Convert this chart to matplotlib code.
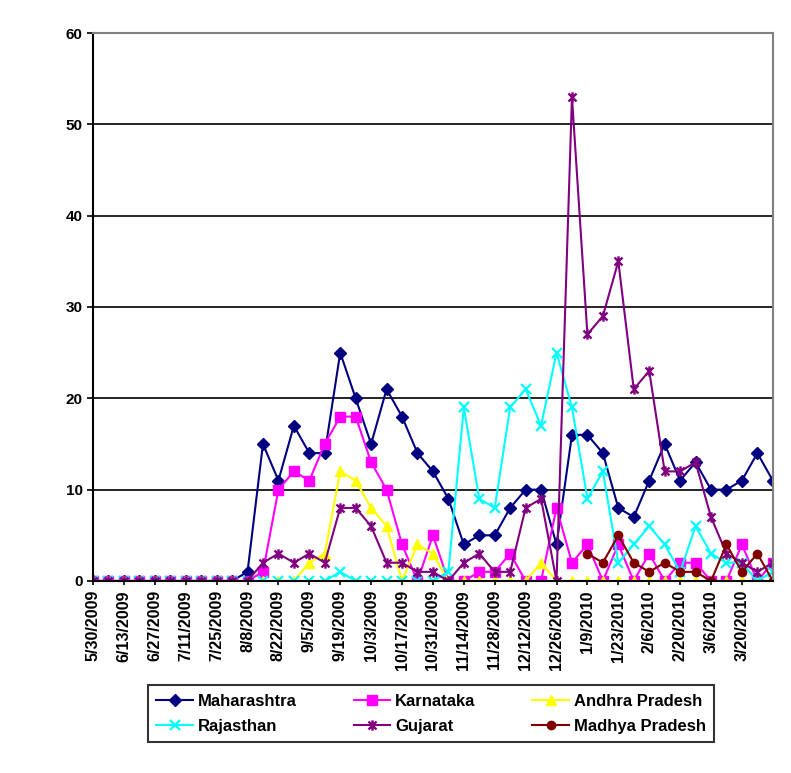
import numpy as np
import matplotlib.pyplot as plt
from matplotlib.path import Path

# weekly reporting dates
dates = ['5/30/2009', '6/6/2009', '6/13/2009', '6/20/2009', '6/27/2009', '7/4/2009',
         '7/11/2009', '7/18/2009', '7/25/2009', '8/1/2009', '8/8/2009', '8/15/2009',
         '8/22/2009', '8/29/2009', '9/5/2009', '9/12/2009', '9/19/2009', '9/26/2009',
         '10/3/2009', '10/10/2009', '10/17/2009', '10/24/2009', '10/31/2009', '11/7/2009',
         '11/14/2009', '11/21/2009', '11/28/2009', '12/5/2009', '12/12/2009', '12/19/2009',
         '12/26/2009', '1/2/2010', '1/9/2010', '1/16/2010', '1/23/2010', '1/30/2010',
         '2/6/2010', '2/13/2010', '2/20/2010', '2/27/2010', '3/6/2010', '3/13/2010',
         '3/20/2010', '3/27/2010', '4/3/2010']

maharashtra = [0, 0, 0, 0, 0, 0, 0, 0, 0, 0,
               1, 15, 11, 17, 14, 14, 25, 20, 15, 21, 18, 14, 12, 9, 4, 5, 5, 8, 10, 10,
               4, 16, 16, 14, 8, 7, 11, 15, 11, 13, 10, 10, 11, 14, 11]
karnataka = [0, 0, 0, 0, 0, 0, 0, 0, 0, 0, 0,
             1, 10, 12, 11, 15, 18, 18, 13, 10, 4, 0, 5, 0, 0, 1, 1, 3, 0, 0, 8,
             2, 4, 0, 4, 0, 3, 0, 2, 2, 0, 0, 4, 0, 2]
andhra = [0, 0, 0, 0, 0, 0, 0, 0, 0, 0, 0, 0, 0, 0,
          2, 3, 12, 11, 8, 6, 0, 4, 3, 0, 0, 0, 0, 0, 0, 2, 0,
          0, 0, 0, 0, 0, 0, 0, 0, 0, 0, 0, 0, 0, 0]
rajasthan = [0, 0, 0, 0, 0, 0, 0, 0, 0, 0, 0, 0, 0, 0, 0, 0,
             1, 0, 0, 0, 0, 0, 0, 1,
             19, 9, 8, 19, 21, 17, 25, 19, 9, 12, 2, 4, 6, 4, 1, 6, 3, 2, 2, 0, 1]
gujarat = [0, 0, 0, 0, 0, 0, 0, 0, 0, 0, 0,
           2, 3, 2, 3, 2, 8, 8, 6, 2, 2, 1, 1, 0, 2, 3, 1, 1, 8, 9, 0,
           53, 27, 29, 35, 21, 23, 12, 12, 13, 7, 3, 2, 1, 2]
madhya = [np.nan] * 32 + [3, 2, 5, 2, 1, 2, 1, 1, 0, 4, 1, 3, 0]

# excel style star marker: x with a vertical bar
star = Path([(-1, -1), (1, 1), (-1, 1), (1, -1), (0, -1.3), (0, 1.3)],
            [Path.MOVETO, Path.LINETO, Path.MOVETO, Path.LINETO, Path.MOVETO, Path.LINETO])

plt.rcParams['font.family'] = ['Liberation Sans', 'DejaVu Sans']
plt.rcParams['font.weight'] = 'bold'

fig = plt.figure(figsize=(7.91, 7.73), dpi=100)
ax = fig.add_axes([0.1176, 0.2484, 0.8594, 0.7089])

x = np.arange(len(dates))
lw = 1.5
h_mah, = ax.plot(x, maharashtra, color='#000080', marker='D', markersize=6, lw=lw, label='Maharashtra')
h_kar, = ax.plot(x, karnataka, color='#FF00FF', marker='s', markersize=7, lw=lw, label='Karnataka')
h_and, = ax.plot(x, andhra, color='#FFFF00', marker='^', markersize=7, lw=lw, label='Andhra Pradesh')
h_raj, = ax.plot(x, rajasthan, color='#00FFFF', marker='x', markersize=7, mew=1.6, lw=lw, label='Rajasthan')
h_guj, = ax.plot(x, gujarat, color='#800080', marker=star, markersize=7.5, mew=1.7, lw=lw, label='Gujarat')
h_mp, = ax.plot(x, madhya, color='#800000', marker='o', markersize=6, lw=lw, label='Madhya Pradesh')

ax.set_xlim(0, len(dates) - 1)
ax.set_ylim(0, 60)
ax.set_yticks(range(0, 61, 10))
ax.yaxis.grid(True, color='black', lw=1.2)
ax.set_axisbelow(True)
ax.tick_params(axis='y', labelsize=11, length=4, width=1.2, color='black')

tick_pos = x[:43:2]
ax.set_xticks(tick_pos)
ax.set_xticklabels([dates[i] for i in tick_pos], rotation=90, fontsize=11.5)
ax.tick_params(axis='x', length=3, width=1.2)

ax.spines['left'].set_linewidth(1.5)
ax.spines['bottom'].set_linewidth(1.5)
ax.spines['top'].set_color('#808080')
ax.spines['right'].set_color('#808080')
ax.spines['top'].set_linewidth(1.5)
ax.spines['right'].set_linewidth(1.5)

# legend fills by column, so order handles to read row by row
handles = [h_mah, h_raj, h_kar, h_guj, h_and, h_mp]
leg = fig.legend(handles=handles, labels=[h.get_label() for h in handles],
                 loc='lower left', bbox_to_anchor=(0.187, 0.040, 0.716, 0.0725), mode='expand',
                 ncol=3, fontsize=12, frameon=True, fancybox=False, handlelength=2.2,
                 handletextpad=0.3, borderaxespad=0, borderpad=0.5, labelspacing=0.6,
                 columnspacing=0.8)
leg.get_frame().set_edgecolor('black')
leg.get_frame().set_linewidth(1.5)

fig.savefig('out.png', dpi=100)
